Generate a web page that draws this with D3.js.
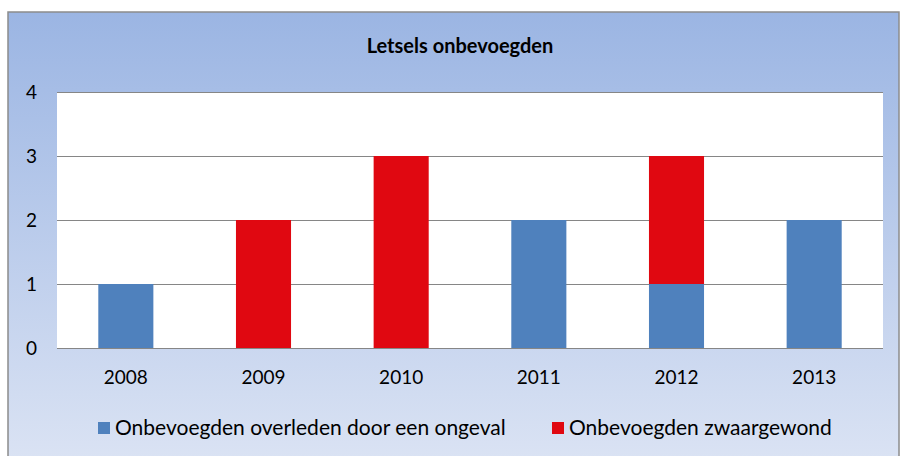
<!DOCTYPE html>
<html>
<head>
<meta charset="utf-8">
<script src="https://cdn.jsdelivr.net/npm/d3@7/dist/d3.min.js"></script>
<style>
  html, body { margin: 0; padding: 0; background: #ffffff; }
  svg { display: block; }
  text { font-family: Lato, "Open Sans", sans-serif; fill: #000; }
</style>
</head>
<body>
<svg id="chart" width="900" height="456"></svg>
<script>
// Data
const years = ["2008", "2009", "2010", "2011", "2012", "2013"];
const overleden = [1, 0, 0, 2, 1, 2];
const zwaargewond = [0, 2, 3, 0, 2, 0];
const seriesNames = ["Onbevoegden overleden door een ongeval", "Onbevoegden zwaargewond"];
const seriesColors = ["#4F81BD", "#E00811"];
const yTicks = [0, 1, 2, 3, 4];
const title = "Letsels onbevoegden";

const svg = d3.select("#chart");

// Chart frame with vertical gradient fill
const defs = svg.append("defs");
const grad = defs.append("linearGradient")
  .attr("id", "bg").attr("x1", 0).attr("y1", 0).attr("x2", 0).attr("y2", 1);
grad.append("stop").attr("offset", "0%").attr("stop-color", "#9BB5E3");
grad.append("stop").attr("offset", "100%").attr("stop-color", "#DCE4F4");

const frame = { x: 8, y: 12, w: 891, h: 460 };
svg.append("rect")
  .attr("x", frame.x).attr("y", frame.y)
  .attr("width", frame.w).attr("height", frame.h)
  .attr("fill", "url(#bg)")
  .attr("stroke", "#8C8C8C").attr("stroke-width", 1.5);

// Plot area
const plot = { left: 57, right: 883, top: 92, bottom: 348 };

const x = d3.scaleBand()
  .domain(years)
  .range([plot.left, plot.right])
  .paddingInner(0.6)
  .paddingOuter(0.3);

const y = d3.scaleLinear()
  .domain([0, 4])
  .range([plot.bottom, plot.top]);

svg.append("rect")
  .attr("x", plot.left).attr("y", plot.top)
  .attr("width", plot.right - plot.left).attr("height", plot.bottom - plot.top)
  .attr("fill", "#ffffff");

// Gridlines
svg.append("g")
  .selectAll("line")
  .data(yTicks)
  .join("line")
  .attr("x1", plot.left).attr("x2", plot.right)
  .attr("y1", d => Math.round(y(d)) + 0.5).attr("y2", d => Math.round(y(d)) + 0.5)
  .attr("stroke", "#868686").attr("stroke-width", 1);

// Stacked bars
const table = years.map((yr, i) => ({ year: yr, overleden: overleden[i], zwaargewond: zwaargewond[i] }));
const stack = d3.stack().keys(["overleden", "zwaargewond"]);
const layers = stack(table);

svg.append("g")
  .selectAll("g")
  .data(layers)
  .join("g")
  .attr("fill", (d, i) => seriesColors[i])
  .selectAll("rect")
  .data(d => d.filter(s => s[1] > s[0]))
  .join("rect")
  .attr("x", d => x(d.data.year))
  .attr("width", x.bandwidth())
  .attr("y", d => y(d[1]))
  .attr("height", d => y(d[0]) - y(d[1]));

// Redraw baseline over bars
svg.append("line")
  .attr("x1", plot.left).attr("x2", plot.right)
  .attr("y1", Math.round(y(0)) + 0.5).attr("y2", Math.round(y(0)) + 0.5)
  .attr("stroke", "#868686");

// Y axis labels
const yAxis = d3.axisLeft(y).tickValues(yTicks).tickSize(0).tickPadding(0).tickFormat(d3.format("d"));
const gy = svg.append("g").attr("transform", `translate(37,0)`).call(yAxis);
gy.select(".domain").remove();
gy.selectAll("text")
  .attr("font-size", 19)
  .attr("font-family", "Lato, 'Open Sans', sans-serif")
  .attr("fill", "#000");

// X axis labels
const xAxis = d3.axisBottom(x).tickSize(0).tickPadding(0);
const gx = svg.append("g").attr("transform", `translate(0,${plot.bottom + 22})`).call(xAxis);
gx.select(".domain").remove();
gx.selectAll("text")
  .attr("font-size", 19)
  .attr("font-family", "Lato, 'Open Sans', sans-serif")
  .attr("fill", "#000");

// Title
svg.append("text")
  .attr("x", 460).attr("y", 53)
  .attr("text-anchor", "middle")
  .attr("font-size", 20)
  .attr("font-weight", "bold")
  .text(title);

// Legend
const legendItems = [
  { name: seriesNames[0], color: seriesColors[0], x: 98 },
  { name: seriesNames[1], color: seriesColors[1], x: 552 }
];
const lg = svg.append("g");
legendItems.forEach(it => {
  lg.append("rect")
    .attr("x", it.x).attr("y", 422)
    .attr("width", 12).attr("height", 12)
    .attr("fill", it.color);
  lg.append("text")
    .attr("x", it.x + 17).attr("y", 435)
    .attr("font-size", 21)
    .text(it.name);
});
</script>
</body>
</html>
